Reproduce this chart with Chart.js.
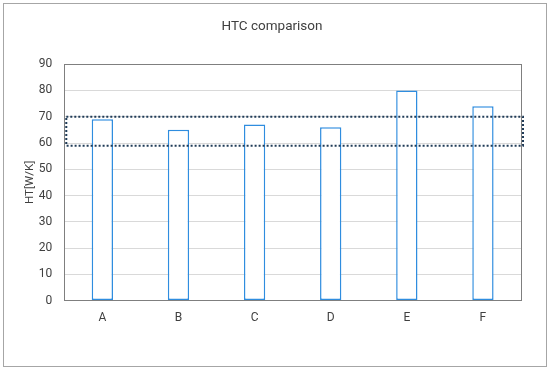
<!DOCTYPE html>
<html>
<head>
  <title>HTC comparison</title>
  <script src="https://cdn.jsdelivr.net/npm/chart.js"></script>
  <style>
    body { margin: 0; background: #fff; }
  </style>
</head>
<body>
  <canvas id="htcChart" width="550" height="371"></canvas>

  <script>
    // data
    const categories = ['A', 'B', 'C', 'D', 'E', 'F'];
    const htValues = [69, 65, 67, 66, 80, 74];
    const yTicks = [0, 10, 20, 30, 40, 50, 60, 70, 80, 90];
    const bandRange = [59, 70];   // dotted box, in W/K

    // outer frame, plot frame and the dotted band
    const framePlugin = {
      id: 'frames',
      beforeDraw(chart) {
        const ctx = chart.ctx;
        ctx.save();
        ctx.fillStyle = '#fff';
        ctx.fillRect(0, 0, chart.width, chart.height);
        ctx.strokeStyle = '#a6a6a6';
        ctx.lineWidth = 1;
        ctx.strokeRect(3.5, 3.5, chart.width - 7, chart.height - 8);
        ctx.restore();
      },
      afterDatasetsDraw(chart) {
        const ctx = chart.ctx;
        const a = chart.chartArea;
        const y = chart.scales.y;
        ctx.save();
        ctx.strokeStyle = '#7f7f7f';
        ctx.lineWidth = 1;
        ctx.strokeRect(Math.round(a.left) + 0.5, Math.round(a.top) + 0.5,
          Math.round(a.right - a.left), Math.round(a.bottom - a.top));

        const top = y.getPixelForValue(bandRange[1]);
        const bottom = y.getPixelForValue(bandRange[0]);
        ctx.strokeStyle = '#1f3b57';
        ctx.lineWidth = 2;
        ctx.setLineDash([2, 2]);
        ctx.strokeRect(a.left + 2, top, a.right - a.left, bottom - top);
        ctx.restore();
      }
    };

    new Chart(document.getElementById('htcChart'), {
      type: 'bar',
      data: {
        labels: categories,
        datasets: [{
          label: 'HT',
          data: htValues,
          backgroundColor: '#ffffff',
          borderColor: '#2f8ddf',
          borderWidth: 1.5,
          borderSkipped: false,
          categoryPercentage: 1,
          barPercentage: 0.28
        }]
      },
      options: {
        responsive: false,
        animation: false,
        layout: {
          padding: { left: 23, right: 29, top: 19, bottom: 36 }
        },
        plugins: {
          legend: { display: false },
          tooltip: { enabled: false },
          title: {
            display: true,
            text: 'HTC comparison',
            color: '#404040',
            font: { family: 'Roboto', size: 13.5, weight: 'normal' },
            padding: { top: 0, bottom: 29 }
          }
        },
        scales: {
          x: {
            grid: { display: false, drawTicks: false },
            border: { color: '#7f7f7f' },
            ticks: {
              color: '#404040',
              font: { family: 'Roboto', size: 12 },
              padding: 10
            }
          },
          y: {
            min: 0,
            max: 90,
            afterBuildTicks(scale) {
              scale.ticks = yTicks.map(v => ({ value: v }));
            },
            grid: {
              drawTicks: false,
              color: ctx => (ctx.tick && (ctx.tick.value === 0 || ctx.tick.value === 90)) ? 'rgba(0,0,0,0)' : '#d9d9d9'
            },
            border: { color: '#7f7f7f' },
            ticks: {
              color: '#404040',
              font: { family: 'Roboto', size: 12 },
              padding: 12
            },
            title: {
              display: true,
              text: 'HT[W/K]',
              color: '#404040',
              font: { family: 'Roboto', size: 11.5 },
              padding: { top: 0, bottom: -10 }
            }
          }
        }
      },
      plugins: [framePlugin]
    });
  </script>
</body>
</html>
